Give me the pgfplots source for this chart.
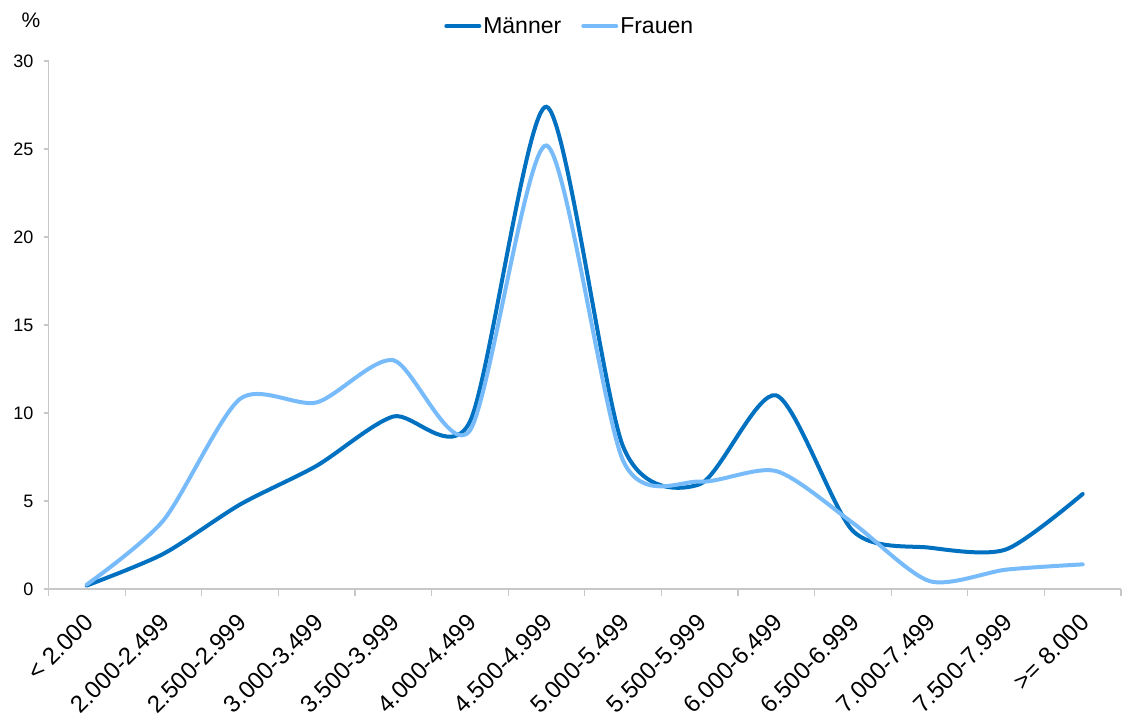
\documentclass[border=0pt]{standalone}
\usepackage{fontspec}
\setmainfont{Liberation Sans}
\usepackage{pgfplots}
\pgfplotsset{compat=1.18}
\definecolor{men}{RGB}{0,112,192}
\definecolor{women}{RGB}{120,187,250}
\definecolor{axgray}{RGB}{200,200,200}
\begin{document}
\begin{tikzpicture}
\useasboundingbox (-48.5pt,-132pt) rectangle (1080.5pt,589pt);
\begin{axis}[
  at={(0,0)}, anchor=south west,
  scale only axis, width=1072.5pt, height=528pt,
  xmin=-0.5, xmax=13.5, ymin=0, ymax=30,
  clip=false,
  axis x line=bottom, axis y line=left,
  axis line style={draw=axgray, line width=1.5pt, -},
  tick align=outside,
  ytick={0,5,...,30},
  major tick length=5pt,
  minor tick length=7pt,
  every tick/.style={draw=axgray, line width=1.2pt},
  major x tick style={draw=none},
  xtick={0,...,13},
  minor xtick={-0.5,0.5,...,13.5},
  xticklabels={{< 2.000},{2.000-2.499},{2.500-2.999},{3.000-3.499},{3.500-3.999},{4.000-4.499},{4.500-4.999},{5.000-5.499},{5.500-5.999},{6.000-6.499},{6.500-6.999},{7.000-7.499},{7.500-7.999},{>= 8.000}},
  /pgf/number format/assume math mode=true,
  y tick label style={font=\fontsize{18}{20}\selectfont, inner sep=0pt, anchor=east, xshift=-10pt},
  x tick label style={font=\fontsize{24}{26}\selectfont, yshift=-18pt, xshift=-4pt, rotate=45, anchor=north east, inner sep=0pt},
  legend style={at={(0.486,1.066)}, anchor=center, draw=none, fill=none, legend columns=2,
    font=\fontsize{23}{25}\selectfont, inner sep=0pt,
    /tikz/every even column/.append style={column sep=18pt}},
  legend image code/.code={\draw[#1, line width=4pt] (0pt,0pt) -- (33pt,0pt);},
]
\addplot[men, line width=4pt, smooth, tension=0.45, line cap=round] coordinates {
(0,0.2) (1,2.0) (2,4.8) (3,7.0) (4,9.8) (5,9.5) (6,27.4) (7,8.1) (8,5.95) (9,11.0) (10,3.3) (11,2.35) (12,2.25) (13,5.4)};
\addlegendentry{Männer}
\addplot[women, line width=4pt, smooth, tension=0.45, line cap=round] coordinates {
(0,0.25) (1,3.9) (2,10.8) (3,10.6) (4,13.0) (5,9.0) (6,25.2) (7,7.3) (8,6.1) (9,6.7) (10,3.75) (11,0.45) (12,1.1) (13,1.4)};
\addlegendentry{Frauen}
\node[font=\fontsize{21}{24}\selectfont, inner sep=0pt] at (rel axis cs:-0.0163,1.0767) {\%};
\end{axis}
\end{tikzpicture}
\end{document}
